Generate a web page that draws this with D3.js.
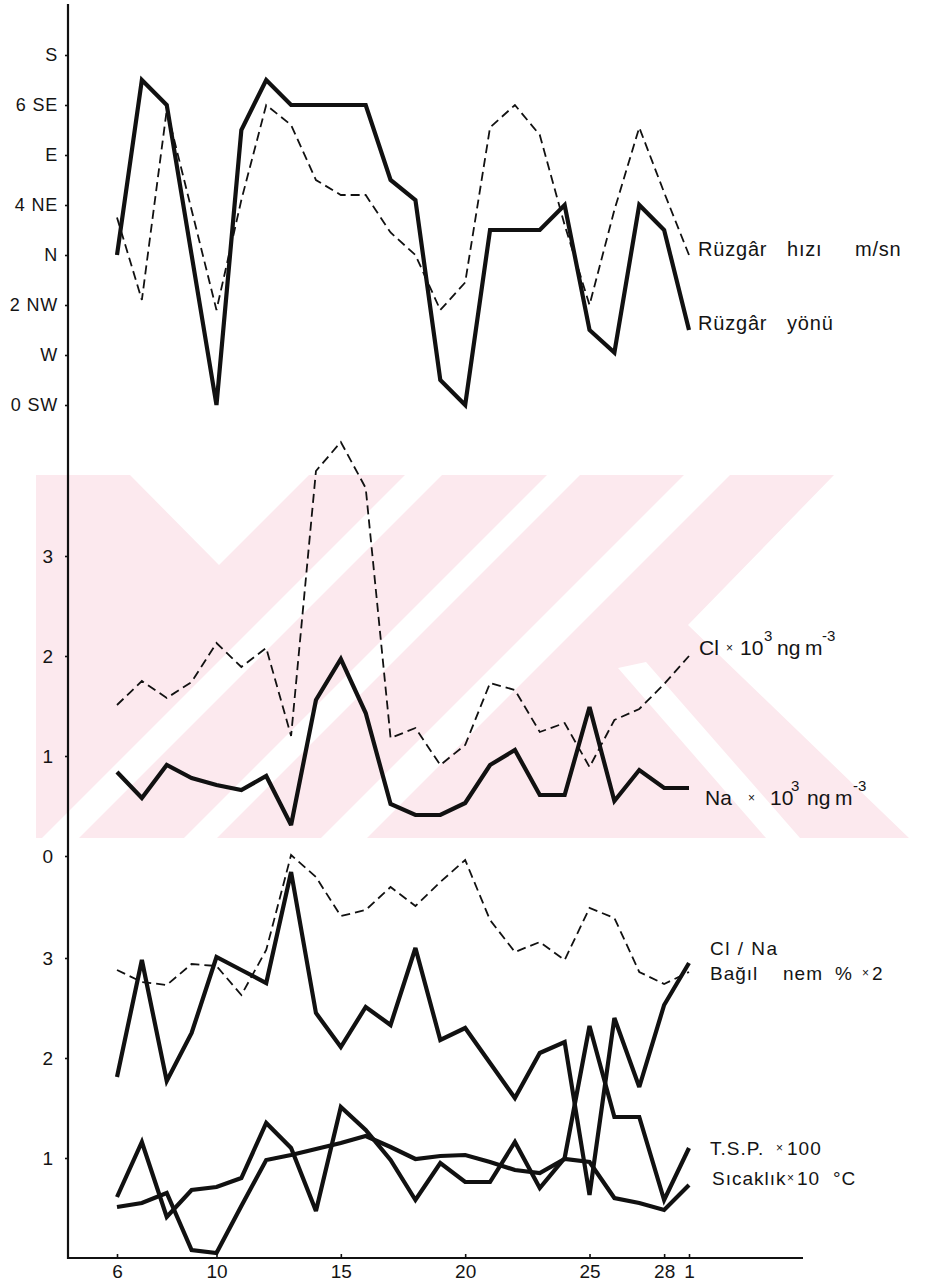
<!DOCTYPE html>
<html>
<head>
<meta charset="utf-8">
<script src="https://cdn.jsdelivr.net/npm/d3@7"></script>
<style>
  html, body { margin: 0; padding: 0; background: #ffffff; }
  svg { display: block; }
  text { font-family: "Liberation Sans", Arial, sans-serif; fill: #141414; }
</style>
</head>
<body>
<svg id="chart" width="925" height="1286"></svg>
<script>
// Sampling days (6th to 28th, then the 1st of the next month)
const days = ["6","7","8","9","10","11","12","13","14","15","16","17","18","19","20","21","22","23","24","25","26","27","28","1"];
const xTickDays = ["6","10","15","20","25","28","1"];

// Upper panel: wind
const windDirLabels = ["0 SW","W","2 NW","N","4 NE","E","6 SE","S"];
const windDirection = [3.0,6.5,6.0,3.0,0.0,5.5,6.5,6.0,6.0,6.0,6.0,4.5,4.1,0.5,0.0,3.5,3.5,3.5,4.0,1.5,1.05,4.0,3.5,1.5];
const windSpeed     = [3.75,2.1,5.9,3.9,1.9,4.1,6.0,5.6,4.5,4.2,4.2,3.45,3.0,1.9,2.45,5.55,6.0,5.4,3.6,2.0,3.9,5.55,4.25,3.0];

// Middle panel: Cl and Na (x 10^3 ng m^-3)
const concTicks = [0,1,2,3];
const chloride = [1.51,1.75,1.58,1.74,2.13,1.89,2.08,1.2,3.85,4.14,3.68,1.18,1.28,0.91,1.11,1.73,1.66,1.24,1.33,0.89,1.36,1.47,1.72,2.0];
const sodium   = [0.84,0.58,0.91,0.78,0.71,0.66,0.8,0.31,1.56,1.97,1.43,0.52,0.41,0.41,0.53,0.91,1.06,0.61,0.61,1.49,0.55,0.86,0.68,0.68];

// Lower panel: Cl/Na, relative humidity, TSP, temperature
const lowTicks = [1,2,3];
const clNaRatio   = [1.81,2.98,1.77,2.25,3.01,2.88,2.75,3.86,2.45,2.11,2.51,2.33,3.1,2.18,2.3,1.95,1.6,2.05,2.16,0.63,2.4,1.71,2.53,2.95];
const humidity    = [2.88,2.76,2.73,2.94,2.92,2.63,3.08,4.03,3.81,3.42,3.48,3.71,3.52,3.76,3.98,3.38,3.06,3.16,2.98,3.5,3.4,2.86,2.74,2.86];
const tsp         = [0.61,1.16,0.41,0.68,0.71,0.8,1.35,1.1,0.47,1.51,1.28,0.98,0.58,0.95,0.76,0.76,1.16,0.7,1.0,2.32,1.41,1.41,0.58,1.1];
const temperature = [0.51,0.55,0.65,0.08,0.05,0.52,0.98,1.03,1.09,1.15,1.22,1.11,0.99,1.02,1.03,0.96,0.88,0.85,0.99,0.96,0.6,0.55,0.48,0.73];

const svg = d3.select("#chart");

// ---- layout ----
const axisX = 68, axisTop = 4, axisBottom = 1258, axisRight = 803;

const x = d3.scalePoint().domain(days).range([117, 689]);
const yWind = d3.scaleLinear().domain([0, 7]).range([405, 55]);
const yConc = d3.scaleLinear().domain([0, 3]).range([856, 556]);
const yLow  = d3.scaleLinear().domain([0, 4]).range([axisBottom, 858]);

// ---- faint background emblem ----
const emblem = svg.append("g").attr("class", "emblem");
const band = { top: 475, bottom: 838 };
const h = band.bottom - band.top;
const pink = "#fce9ee";
emblem.append("path")
  .attr("d", d3.line()([[36, band.top], [834, band.top], [688, 625], [909, band.bottom], [36, band.bottom]]) + "Z")
  .attr("fill", pink);
// white cuts: top-left notch, rising stripes, falling stripe on the right
const cuts = [
  [[130, band.top], [309, band.top], [219, 565]],
  ...[[405, 442], [547, 580], [684, 730]].map(([a, b]) =>
    [[a, band.top], [b, band.top], [b - h, band.bottom], [a - h, band.bottom]]),
  [[618, 668], [646, 662], [800, band.bottom], [766, band.bottom]]
];
emblem.selectAll("path.cut").data(cuts).join("path")
  .attr("class", "cut")
  .attr("d", d => d3.line()(d) + "Z")
  .attr("fill", "#ffffff");

// ---- axes ----
const axes = svg.append("g").attr("class", "axes");
axes.append("line")
  .attr("x1", axisX).attr("x2", axisX).attr("y1", axisTop).attr("y2", axisBottom + 1)
  .attr("stroke", "#111").attr("stroke-width", 2.2);
axes.append("line")
  .attr("x1", axisX - 1).attr("x2", axisRight).attr("y1", axisBottom).attr("y2", axisBottom)
  .attr("stroke", "#111").attr("stroke-width", 2.2);

function styleAxis(g, size) {
  g.select(".domain").remove();
  g.selectAll(".tick line").attr("stroke", "#111").attr("stroke-width", 1.6);
  g.selectAll(".tick text").attr("font-size", size).attr("fill", "#141414")
    .attr("font-family", "Liberation Sans, Arial, sans-serif");
}

axes.append("g").attr("transform", `translate(${axisX},0)`)
  .call(d3.axisLeft(yWind).tickValues(d3.range(0, 8)).tickFormat(i => windDirLabels[i]).tickSize(3).tickPadding(7))
  .call(g => styleAxis(g, 18))
  .call(g => g.selectAll(".tick text").attr("letter-spacing", 0.8));

axes.append("g").attr("transform", `translate(${axisX},0)`)
  .call(d3.axisLeft(yConc).tickValues(concTicks).tickFormat(d3.format("d")).tickSize(3).tickPadding(12))
  .call(g => styleAxis(g, 19));

axes.append("g").attr("transform", `translate(${axisX},0)`)
  .call(d3.axisLeft(yLow).tickValues(lowTicks).tickFormat(d3.format("d")).tickSize(3).tickPadding(12))
  .call(g => styleAxis(g, 19));

axes.append("g").attr("transform", `translate(0,${axisBottom})`)
  .call(d3.axisBottom(x).tickValues(xTickDays).tickSize(-4).tickPadding(7))
  .call(g => styleAxis(g, 19));

// ---- series ----
const solid = { width: 4.2, dash: null };
const dashed = { width: 1.8, dash: "9,5" };

function drawSeries(values, yScale, style) {
  const line = d3.line().x((d, i) => x(days[i])).y(d => yScale(d));
  svg.append("path")
    .datum(values)
    .attr("d", line)
    .attr("fill", "none")
    .attr("stroke", "#111")
    .attr("stroke-width", style.width)
    .attr("stroke-linejoin", "miter")
    .attr("stroke-miterlimit", 3)
    .attr("stroke-dasharray", style.dash);
}

drawSeries(windSpeed, yWind, dashed);
drawSeries(windDirection, yWind, solid);
drawSeries(chloride, yConc, dashed);
drawSeries(sodium, yConc, solid);
drawSeries(humidity, yLow, dashed);
drawSeries(clNaRatio, yLow, solid);
drawSeries(temperature, yLow, solid);
drawSeries(tsp, yLow, solid);

// ---- series labels ----
// each label is a list of [text, x, baseline, fontSize]
function label(parts, spacing) {
  const t = svg.append("text").attr("letter-spacing", spacing || 0);
  parts.forEach(([s, px, py, fs]) => {
    t.append("tspan").attr("x", px).attr("y", py).attr("font-size", fs).text(s);
  });
}

label([["Rüzgâr", 698, 256, 20], ["hızı", 787, 256, 20], ["m/sn", 855, 256, 20]], 0.8);
label([["Rüzgâr", 698, 330, 20], ["yönü", 787, 330, 20]], 0.8);

label([["Cl", 699, 655, 21], ["×", 726, 652, 12], ["10", 740, 655, 21], ["3", 764, 641, 15],
       ["ng", 777, 655, 21], ["m", 805, 655, 21], ["-3", 822, 641, 15]]);
label([["Na", 705, 805, 21], ["×", 748, 802, 12], ["10", 770, 805, 21], ["3", 791, 791, 15],
       ["ng", 807, 805, 21], ["m", 835, 805, 21], ["-3", 853, 791, 15]]);

label([["Cl / Na", 710, 955, 19]], 1.5);
label([["Bağıl", 710, 980, 19], ["nem", 783, 980, 19], ["%", 835, 980, 19], ["×", 862, 977, 12], ["2", 872, 980, 19]], 1);
label([["T.S.P.", 710, 1155, 19], ["×", 776, 1152, 12], ["100", 787, 1155, 19]], 1);
label([["Sıcaklık", 712, 1185, 19], ["×", 787, 1182, 12], ["10", 797, 1185, 19], ["°C", 833, 1185, 19]], 1);
</script>
</body>
</html>
